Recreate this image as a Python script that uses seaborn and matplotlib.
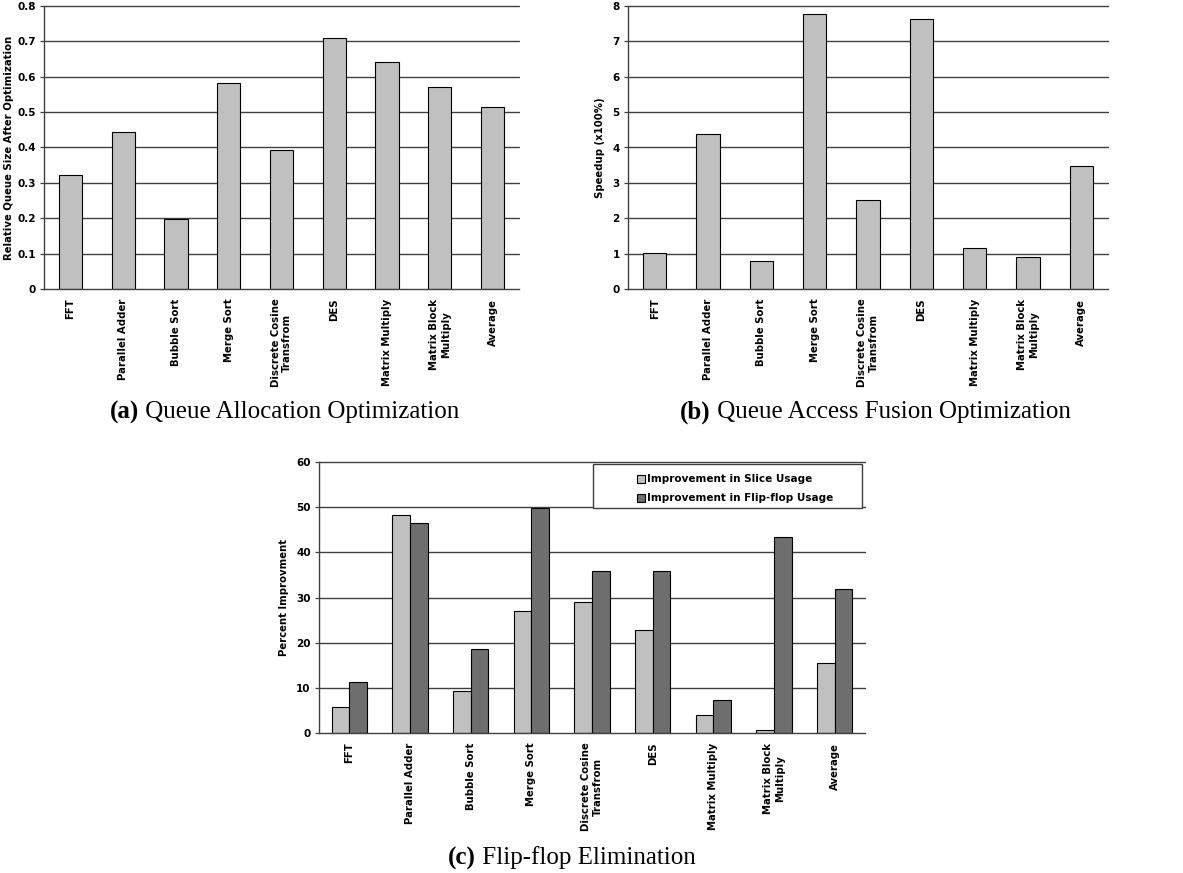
import matplotlib
matplotlib.use("Agg")
import matplotlib.pyplot as plt
from matplotlib.patches import Rectangle
import numpy as np
import pandas as pd
import seaborn as sns

sns.set_theme(style="white")
plt.rcParams["font.family"] = ["DejaVu Sans"]
plt.rcParams["text.color"] = "black"
plt.rcParams["axes.labelcolor"] = "black"
plt.rcParams["xtick.color"] = "black"
plt.rcParams["ytick.color"] = "black"

# Benchmarks shared by all three panels
benchmarks = ["FFT", "Parallel Adder", "Bubble Sort", "Merge Sort",
              "Discrete Cosine\nTransfrom", "DES", "Matrix Multiply",
              "Matrix Block\nMultiply", "Average"]

# (a) relative queue size after optimization
queue_size = [0.323, 0.445, 0.197, 0.583, 0.392, 0.710, 0.641, 0.572, 0.515]
queue_ticks = [0, 0.1, 0.2, 0.3, 0.4, 0.5, 0.6, 0.7, 0.8]
queue_tick_labels = ["0", "0.1", "0.2", "0.3", "0.4", "0.5", "0.6", "0.7", "0.8"]

# (b) speedup from queue access fusion
speedup = [1.02, 4.37, 0.80, 7.78, 2.52, 7.64, 1.15, 0.90, 3.47]
speedup_ticks = [0, 1, 2, 3, 4, 5, 6, 7, 8]

# (c) percent improvement from flip-flop elimination
series_names = ["Improvement in Slice Usage", "Improvement in Flip-flop Usage"]
slice_impr = [5.7, 48.2, 9.2, 27.0, 29.0, 22.7, 4.0, 0.7, 15.4]
ff_impr = [11.4, 46.4, 18.6, 49.8, 35.9, 35.8, 7.3, 43.4, 31.8]
impr_ticks = [0, 10, 20, 30, 40, 50, 60]

LIGHT = "#c0c0c0"
DARK = "#6e6e6e"
GRID = "#404040"
TICK_FS = 7.3
W, H = 1183, 873

fig = plt.figure(figsize=(W / 100, H / 100), dpi=100)


def fx(x):
    return x / W


def fy(y):
    return 1 - y / H


def px_axes(left, top, right, bottom):
    return fig.add_axes([fx(left), fy(bottom), (right - left) / W, (bottom - top) / H])


def style_axes(ax, ticks, tick_labels, ylabel, labelpad=5):
    n = len(benchmarks)
    ax.set_xlim(-0.5, n - 0.5)
    ax.set_ylim(ticks[0], ticks[-1])
    ax.set_yticks(ticks)
    ax.set_yticklabels(tick_labels, fontsize=7.5, fontweight="bold")
    for t in ticks[1:]:
        ax.axhline(t, color=GRID, lw=1.0, zorder=0, clip_on=False)
    ax.set_xticks(range(n))
    ax.set_xticklabels(benchmarks, rotation=90, fontsize=TICK_FS, fontweight="bold",
                       ha="center", va="top", multialignment="center")
    ax.set_xticks(np.arange(-0.5, n, 1.0), minor=True)
    ax.tick_params(axis="x", which="major", length=0, pad=7)
    ax.tick_params(axis="x", which="minor", length=4, width=0.9, color=GRID, direction="out")
    ax.tick_params(axis="y", length=3, width=0.9, color=GRID, direction="out", pad=3, left=True)
    ax.set_xlabel("")
    ax.set_ylabel(ylabel, fontsize=7.3, fontweight="bold", labelpad=labelpad)
    for s in ("top", "right"):
        ax.spines[s].set_visible(False)
    for s in ("left", "bottom"):
        ax.spines[s].set_color(GRID)
        ax.spines[s].set_linewidth(1.0)


# Panel (a)
ax_a = px_axes(44, 6, 519, 289)
df_a = pd.DataFrame({"benchmark": benchmarks, "value": queue_size})
sns.barplot(data=df_a, x="benchmark", y="value", color=LIGHT, saturation=1,
            width=0.44, edgecolor="black", linewidth=0.8, ax=ax_a, zorder=2)
style_axes(ax_a, queue_ticks, queue_tick_labels, "Relative Queue Size After Optimization",
           labelpad=2)

# Panel (b)
ax_b = px_axes(628, 6, 1108, 289)
df_b = pd.DataFrame({"benchmark": benchmarks, "value": speedup})
sns.barplot(data=df_b, x="benchmark", y="value", color=LIGHT, saturation=1,
            width=0.44, edgecolor="black", linewidth=0.8, ax=ax_b, zorder=2)
style_axes(ax_b, speedup_ticks, [str(t) for t in speedup_ticks], "Speedup (x100%)")

# Panel (c)
ax_c = px_axes(319, 462, 865, 733)
df_c = pd.DataFrame({
    "benchmark": benchmarks * 2,
    "series": [series_names[0]] * len(benchmarks) + [series_names[1]] * len(benchmarks),
    "value": slice_impr + ff_impr,
})
sns.barplot(data=df_c, x="benchmark", y="value", hue="series", hue_order=series_names,
            palette=[LIGHT, DARK], saturation=1, width=0.58, gap=0,
            edgecolor="black", linewidth=0.8, ax=ax_c, zorder=2)
style_axes(ax_c, impr_ticks, [str(t) for t in impr_ticks], "Percent Improvment")

# Legend box in the upper right of panel (c)
handles, labels = ax_c.get_legend_handles_labels()
ax_c.get_legend().remove()
fig.patches.append(Rectangle((fx(593), fy(508)), (862 - 593) / W, (508 - 464) / H,
                             transform=fig.transFigure, facecolor="white",
                             edgecolor=GRID, lw=1.0, zorder=5))
leg = fig.legend(handles, labels, loc="upper left", bbox_to_anchor=(fx(630), fy(467)),
                 frameon=False, prop={"size": 7.5, "weight": "bold"},
                 handlelength=0.75, handleheight=0.8, handletextpad=0.15,
                 borderpad=0.2, labelspacing=0.85)
leg.set_zorder(6)

# Captions beneath each panel
serif = ["Liberation Serif", "DejaVu Serif"]


def caption(x, y, tag, text, size=18):
    t = fig.text(fx(x), fy(y), tag, family=serif, fontsize=size, fontweight="bold",
                 ha="left", va="center")
    fig.canvas.draw()
    bb = t.get_window_extent()
    fig.text(bb.x1 / W, fy(y), " " + text, family=serif, fontsize=size,
             ha="left", va="center")


caption(110, 412, "(a)", "Queue Allocation Optimization")
caption(680, 412, "(b)", "Queue Access Fusion Optimization")
caption(448, 858, "(c)", "Flip-flop Elimination")

fig.savefig("out.png", dpi=100)
